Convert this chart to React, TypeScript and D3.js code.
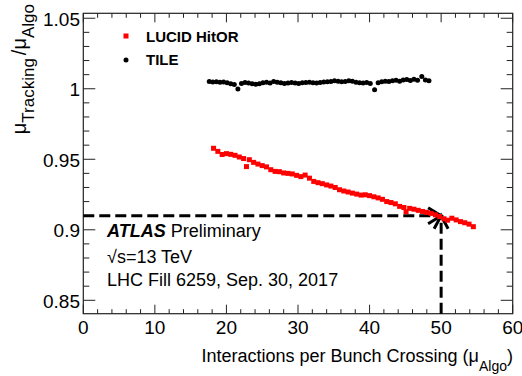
import React from 'react';
import * as d3 from 'd3';

// TILE: mu_Tracking / mu_Algo vs mu_Algo
const tileMu = [17.6, 18.1, 18.6, 19.1, 19.6, 20.1, 20.6, 21.1, 21.6, 22.1, 22.6, 23.1, 23.6, 24.1, 24.6, 25.1, 25.6, 26.1, 26.6, 27.1, 27.6, 28.1, 28.6, 29.1, 29.6, 30.1, 30.6, 31.1, 31.6, 32.1, 32.6, 33.1, 33.6, 34.1, 34.6, 35.1, 35.6, 36.1, 36.6, 37.1, 37.6, 38.1, 38.6, 39.1, 39.6, 40.1, 40.7, 41.2, 41.7, 42.2, 42.7, 43.2, 43.7, 44.2, 44.7, 45.2, 45.7, 46.2, 46.7, 47.3, 47.8, 48.3];
const tileRatio = [1.0052, 1.0048, 1.005, 1.0046, 1.0047, 1.0042, 1.0035, 1.003, 0.9998, 1.0038, 1.0044, 1.004, 1.0036, 1.0032, 1.0036, 1.0042, 1.0046, 1.004, 1.0052, 1.0046, 1.0042, 1.0038, 1.004, 1.0044, 1.004, 1.0038, 1.0042, 1.0044, 1.0046, 1.0042, 1.004, 1.0044, 1.0048, 1.005, 1.0052, 1.0056, 1.0054, 1.005, 1.0052, 1.0056, 1.0054, 1.0046, 1.0042, 1.004, 1.0044, 1.0038, 0.9993, 1.0042, 1.005, 1.0054, 1.0052, 1.0056, 1.006, 1.0054, 1.0062, 1.0066, 1.0058, 1.0068, 1.006, 1.0086, 1.0062, 1.0056];

// LUCID HitOR
const lucidMu = [18.2, 18.8, 19.4, 20.0, 20.6, 21.2, 21.8, 22.4, 22.8, 23.2, 23.8, 24.4, 25.0, 25.6, 26.2, 26.8, 27.4, 28.0, 28.6, 29.2, 29.8, 30.4, 31.0, 31.6, 32.2, 32.8, 33.4, 34.0, 34.6, 35.2, 35.8, 36.4, 37.0, 37.6, 38.2, 38.8, 39.4, 40.0, 40.6, 41.2, 41.8, 42.4, 43.0, 43.6, 44.2, 44.8, 45.1, 45.6, 46.2, 46.8, 47.4, 48.0, 48.6, 49.2, 49.8, 50.4, 50.9, 51.5, 52.1, 52.7, 53.3, 53.9, 54.5];
const lucidRatio = [0.9578, 0.9556, 0.9534, 0.954, 0.9535, 0.9528, 0.9516, 0.9505, 0.9448, 0.9497, 0.9478, 0.9466, 0.9455, 0.9446, 0.9426, 0.9414, 0.9412, 0.9403, 0.94, 0.9396, 0.9386, 0.9377, 0.9388, 0.9366, 0.9343, 0.9334, 0.9327, 0.9318, 0.931, 0.93, 0.9284, 0.9275, 0.9268, 0.926, 0.9253, 0.9246, 0.9248, 0.9242, 0.9234, 0.9226, 0.9216, 0.92, 0.9193, 0.9184, 0.9166, 0.9158, 0.9128, 0.9152, 0.9146, 0.9138, 0.913, 0.9124, 0.9116, 0.9106, 0.9094, 0.9078, 0.9068, 0.9082, 0.907, 0.9058, 0.905, 0.904, 0.9022];

const xTicks = [0, 10, 20, 30, 40, 50, 60];
const yTicks = [0.85, 0.9, 0.95, 1, 1.05];

// reference point marked with dashed arrows
const refMu = 50;
const refRatio = 0.91;

const W = 522;
const H = 376;
const frame = { left: 83.3, right: 512.7, top: 13.3, bottom: 313.7 };
const font = '"Liberation Sans", Arial, Helvetica, sans-serif';

const App = () => {
  const x = d3.scaleLinear().domain([0, 60]).range([frame.left, frame.right]);
  const y = d3.scaleLinear().domain([0.8405, 1.0535]).range([frame.bottom, frame.top]);

  const xMinor = d3.range(0, 61, 2).filter((v) => v % 10 !== 0);
  const yMinor = d3.range(85, 106).filter((v) => v % 5 !== 0).map((v) => v / 100);

  const ax = x(refMu);
  const ay = y(refRatio);

  return (
    <svg width={W} height={H} style={styles.chart} fontFamily={font}>
      {/* frame */}
      <rect
        x={frame.left}
        y={frame.top}
        width={frame.right - frame.left}
        height={frame.bottom - frame.top}
        fill="none"
        stroke="#222"
        strokeWidth={1.2}
      />

      {/* x ticks, bottom and top */}
      {xTicks.map((t) => (
        <g key={'xt' + t}>
          <line x1={x(t)} x2={x(t)} y1={frame.bottom} y2={frame.bottom - 9} stroke="#222" />
          <line x1={x(t)} x2={x(t)} y1={frame.top} y2={frame.top + 9} stroke="#222" />
          <text x={x(t)} y={334} textAnchor="middle" fontSize={19}>
            {t}
          </text>
        </g>
      ))}
      {xMinor.map((t) => (
        <g key={'xm' + t}>
          <line x1={x(t)} x2={x(t)} y1={frame.bottom} y2={frame.bottom - 4.5} stroke="#222" />
          <line x1={x(t)} x2={x(t)} y1={frame.top} y2={frame.top + 4.5} stroke="#222" />
        </g>
      ))}

      {/* y ticks, left and right */}
      {yTicks.map((t) => (
        <g key={'yt' + t}>
          <line x1={frame.left} x2={frame.left + 12} y1={y(t)} y2={y(t)} stroke="#222" />
          <line x1={frame.right} x2={frame.right - 12} y1={y(t)} y2={y(t)} stroke="#222" />
          <text x={80} y={y(t) + 7.5} textAnchor="end" fontSize={19}>
            {String(t)}
          </text>
        </g>
      ))}
      {yMinor.map((t) => (
        <g key={'ym' + t}>
          <line x1={frame.left} x2={frame.left + 6} y1={y(t)} y2={y(t)} stroke="#222" />
          <line x1={frame.right} x2={frame.right - 6} y1={y(t)} y2={y(t)} stroke="#222" />
        </g>
      ))}

      {/* axis titles */}
      <text x={513} y={362} textAnchor="end" fontSize={18}>
        Interactions per Bunch Crossing (μ
        <tspan fontSize={14} dy={9}>Algo</tspan>
        <tspan dy={-9}>)</tspan>
      </text>
      <text transform="translate(26,4) rotate(-90)" textAnchor="end" fontSize={20}>
        μ
        <tspan fontSize={17} dy={8}>Tracking</tspan>
        <tspan dy={-8} dx={3}>/μ</tspan>
        <tspan fontSize={17} dy={8}>Algo</tspan>
      </text>

      {/* dashed reference arrows */}
      <line x1={frame.left} x2={ax} y1={ay} y2={ay} stroke="#000" strokeWidth={3} strokeDasharray="11,5" />
      <line x1={ax} x2={ax} y1={frame.bottom} y2={ay} stroke="#000" strokeWidth={3} strokeDasharray="11,5" />
      <path d={`M${ax - 13},${ay - 8} L${ax},${ay} L${ax - 13},${ay + 8}`} fill="none" stroke="#000" strokeWidth={3} />
      <path d={`M${ax - 7},${ay + 13} L${ax},${ay} L${ax + 7},${ay + 13}`} fill="none" stroke="#000" strokeWidth={3} />

      {/* TILE points */}
      {tileMu.map((m, i) => (
        <circle key={'t' + i} cx={x(m)} cy={y(tileRatio[i])} r={2.5} fill="#000" />
      ))}

      {/* LUCID points */}
      {lucidMu.map((m, i) => (
        <rect key={'l' + i} x={x(m) - 2.5} y={y(lucidRatio[i]) - 2.5} width={5} height={5} fill="#ff0000" />
      ))}

      {/* legend */}
      <rect x={123.5} y={33.5} width={5} height={5} fill="#ff0000" />
      <text x={146} y={41.5} fontSize={15} fontWeight="bold">
        LUCID HitOR
      </text>
      <circle cx={126} cy={60} r={2.5} fill="#000" />
      <text x={146} y={64.5} fontSize={15} fontWeight="bold">
        TILE
      </text>

      {/* ATLAS label */}
      <text x={107} y={237} fontSize={18}>
        <tspan fontWeight="bold" fontStyle="italic">ATLAS</tspan>
        <tspan> Preliminary</tspan>
      </text>
      <text x={107} y={263} fontSize={18}>
        √s=13 TeV
      </text>
      <text x={107} y={286} fontSize={18}>
        LHC Fill 6259, Sep. 30, 2017
      </text>
    </svg>
  );
};

export default App;

const styles = {
  chart: {
    position: 'absolute' as const,
    left: 0,
    top: 0,
    background: '#fff',
    display: 'block',
  },
};
